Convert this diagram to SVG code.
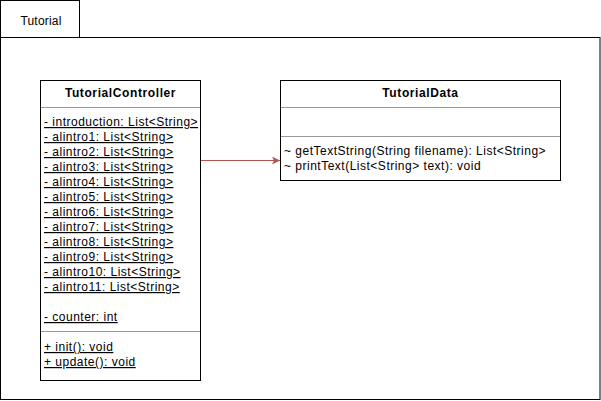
<svg xmlns="http://www.w3.org/2000/svg" width="601" height="401" viewBox="0 0 601 401">
<style>
text{font-family:"Liberation Sans",Arial,sans-serif;font-size:12px;letter-spacing:0.5px;fill:#000}
.t{font-weight:bold;font-size:12px;letter-spacing:0.6px;text-anchor:middle}
.u{text-decoration:underline}
.box{fill:#fff;stroke:#000;stroke-width:1}
.sep{stroke:#999;stroke-width:1}
</style>
<defs>
<marker id="ah" markerWidth="10" markerHeight="10" refX="8" refY="4" orient="auto" markerUnits="userSpaceOnUse">
<path d="M0,0 L8,4 L0,8 L2,4 Z" fill="#b85450"/>
</marker>
</defs>
<rect width="601" height="401" fill="#fff"/>
<g id="frame">
<rect class="box" x="0.5" y="0.5" width="79" height="37"/>
<rect class="box" x="0.5" y="37.5" width="599.5" height="362"/>
<text x="41" y="25" text-anchor="middle" style="letter-spacing:0.2px">Tutorial</text>
</g>
<g id="TutorialController">
<rect class="box" x="40.5" y="80.5" width="160" height="300"/>
<line class="sep" x1="41" y1="107.5" x2="200" y2="107.5"/>
<line class="sep" x1="41" y1="331.5" x2="200" y2="331.5"/>
<text class="t" x="120.5" y="97">TutorialController</text>
<text class="u" x="44" y="126">- introduction: List&lt;String&gt;</text>
<text class="u" x="44" y="141">- alintro1: List&lt;String&gt;</text>
<text class="u" x="44" y="156">- alintro2: List&lt;String&gt;</text>
<text class="u" x="44" y="171">- alintro3: List&lt;String&gt;</text>
<text class="u" x="44" y="186">- alintro4: List&lt;String&gt;</text>
<text class="u" x="44" y="201">- alintro5: List&lt;String&gt;</text>
<text class="u" x="44" y="216">- alintro6: List&lt;String&gt;</text>
<text class="u" x="44" y="231">- alintro7: List&lt;String&gt;</text>
<text class="u" x="44" y="246">- alintro8: List&lt;String&gt;</text>
<text class="u" x="44" y="261">- alintro9: List&lt;String&gt;</text>
<text class="u" x="44" y="276">- alintro10: List&lt;String&gt;</text>
<text class="u" x="44" y="291">- alintro11: List&lt;String&gt;</text>
<text class="u" x="44" y="321">- counter: int</text>
<text class="u" x="44" y="351">+ init(): void</text>
<text class="u" x="44" y="366">+ update(): void</text>
</g>
<g id="TutorialData">
<rect class="box" x="280.5" y="80.5" width="280" height="100"/>
<line class="sep" x1="281" y1="107.5" x2="560" y2="107.5"/>
<line class="sep" x1="281" y1="136.5" x2="560" y2="136.5"/>
<text class="t" x="420.5" y="97">TutorialData</text>
<text x="284" y="155">~ getTextString(String filename): List&lt;String&gt;</text>
<text x="284" y="170">~ printText(List&lt;String&gt; text): void</text>
</g>
<g id="connectors">
<line x1="201" y1="160.5" x2="280" y2="160.5" stroke="#b85450" stroke-width="1" marker-end="url(#ah)"/>
</g>
</svg>
